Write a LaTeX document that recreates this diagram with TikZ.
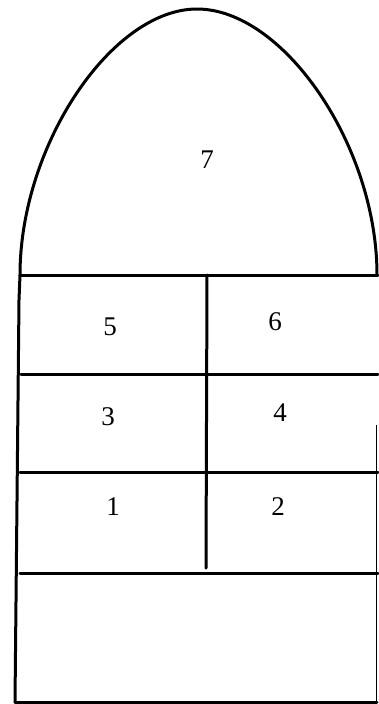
\documentclass[tikz,border=0pt]{standalone}
\usepackage{fontspec}
\setmainfont{Liberation Serif}
\begin{document}
\begin{tikzpicture}[x=1pt,y=-1pt,
  wall/.style={line width=3pt,line cap=round,line join=round},
  thin wall/.style={line width=1.5pt},
  num/.style={font=\fontsize{27}{27}\selectfont,inner sep=0pt}]
\useasboundingbox (0,0) rectangle (378,704);
% arch and left wall
\draw[wall] (15,702) -- (19,300) -- (20,275)
  .. controls (20,145) and (112,9) .. (197,9)
  .. controls (283,9) and (377,145) .. (377,275);
% right wall (faint)
\draw[thin wall] (376.5,425) -- (376.5,702);
% bottom
\draw[wall] (15,702) -- (377,702);
% horizontal dividers
\draw[wall] (20,275) -- (378,275);
\draw[wall] (21,374) -- (378,374);
\draw[wall] (20,472) -- (378,472);
\draw[wall] (20,573) -- (378,573);
% vertical divider
\draw[wall] (207,275) -- (206,568);
% labels
\node[num] (n7) at (207,160) {7};
\node[num] (n5) at (110,327) {5};
\node[num] (n6) at (275,322) {6};
\node[num] (n3) at (108,417) {3};
\node[num] (n4) at (280,413) {4};
\node[num] (n1) at (113,507) {1};
\node[num] (n2) at (278,507) {2};
\end{tikzpicture}
\end{document}
